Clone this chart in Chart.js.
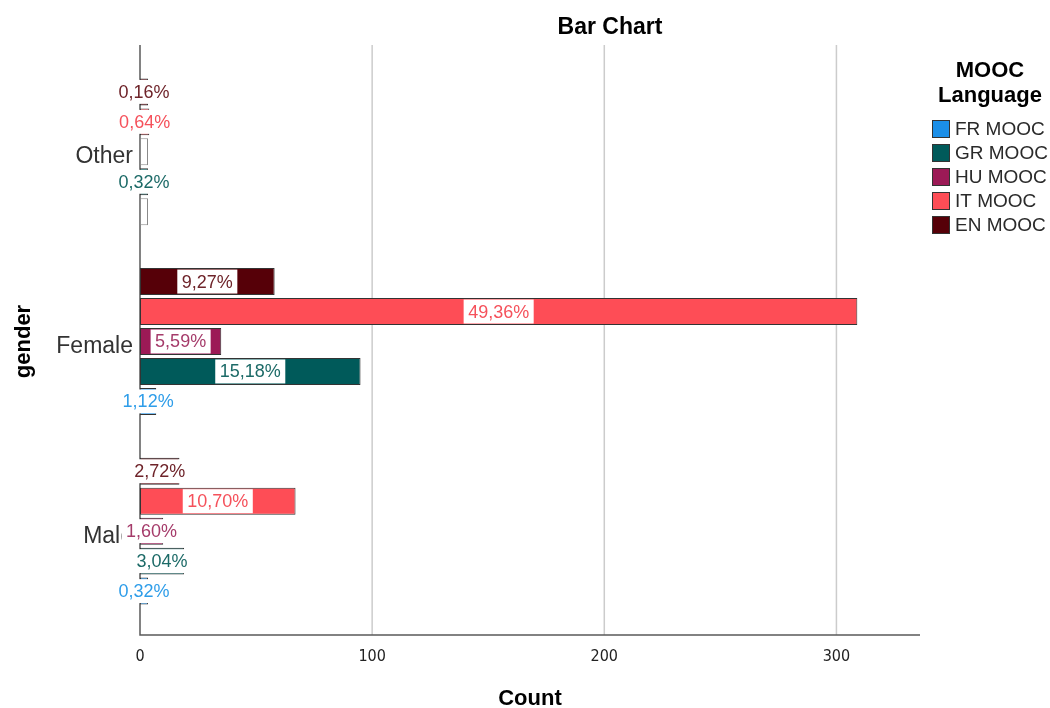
<!DOCTYPE html>
<html>
<head>
<meta charset="utf-8">
<script src="https://cdn.jsdelivr.net/npm/chart.js@4.4.1/dist/chart.umd.min.js"></script>
<style>
  html, body { margin: 0; padding: 0; background: #fff; }
  #wrap { width: 1050px; height: 708px; }
</style>
</head>
<body>
<div id="wrap"><canvas id="chart"></canvas></div>
<script>
var genders = ['Other', 'Female', 'Male'];
var languages = ['EN MOOC', 'IT MOOC', 'HU MOOC', 'GR MOOC', 'FR MOOC'];
var enMooc = [1, 58, 17];
var itMooc = [4, 309, 67];
var huMooc = [0, 35, 10];
var grMooc = [2, 95, 19];
var frMooc = [0, 7, 2];
var xTicks = [0, 100, 200, 300];

var barColors = ['#560008', '#fe4d56', '#9c1a56', '#005a5a', '#1b8fe8'];
var textColors = ['#6e2329', '#f5515b', '#a53b6a', '#1c6a67', '#2e9de9'];

var series = [enMooc, itMooc, huMooc, grMooc, frMooc];
var total = 0;
series.forEach(function (s) { s.forEach(function (v) { total += v; }); });

var font = 'Liberation Sans, Arial, sans-serif';

var frame = {
  id: 'frame',
  beforeDatasetsDraw: function (chart) {
    var ctx = chart.ctx, xs = chart.scales.x, area = chart.chartArea;
    var top = 45, bottom = 635;
    var x0 = xs.getPixelForValue(0);
    ctx.save();
    ctx.strokeStyle = '#cccccc';
    ctx.lineWidth = 1.5;
    xTicks.forEach(function (v) {
      if (v === 0) return;
      var px = xs.getPixelForValue(v);
      ctx.beginPath(); ctx.moveTo(px, top); ctx.lineTo(px, bottom); ctx.stroke();
    });
    ctx.strokeStyle = '#595959';
    ctx.beginPath();
    ctx.moveTo(x0, top); ctx.lineTo(x0, bottom); ctx.lineTo(area.right, bottom);
    ctx.stroke();
    ctx.restore();
  },
  afterDatasetsDraw: function (chart) {
    var ctx = chart.ctx;
    ctx.save();
    ctx.font = '18px ' + font;
    ctx.textAlign = 'center';
    ctx.textBaseline = 'middle';
    chart.data.datasets.forEach(function (ds, i) {
      chart.getDatasetMeta(i).data.forEach(function (bar, j) {
        var v = ds.data[j];
        if (!v) return;
        var txt = (v / total * 100).toFixed(2).replace('.', ',') + '%';
        var cx = (bar.x + bar.base) / 2;
        var w = ctx.measureText(txt).width + 9;
        var h = bar.height - 3;
        ctx.fillStyle = '#ffffff';
        ctx.fillRect(cx - w / 2, bar.y - h / 2, w, h);
        ctx.fillStyle = textColors[i];
        ctx.fillText(txt, cx, bar.y + 1);
      });
    });
    ctx.restore();
  },
  afterDraw: function (chart) {
    var ctx = chart.ctx;
    ctx.save();
    ctx.fillStyle = '#000';
    ctx.textAlign = 'center';
    ctx.textBaseline = 'middle';
    ctx.font = 'bold 23px ' + font;
    ctx.fillText('Bar Chart', 610, 28);
    ctx.font = 'bold 22px ' + font;
    ctx.fillText('MOOC', 990, 71);
    ctx.fillText('Language', 990, 96);
    ctx.font = '19px ' + font;
    ctx.textAlign = 'left';
    var n = chart.data.datasets.length;
    for (var k = 0; k < n; k++) {
      var i = n - 1 - k;
      var y = 129 + k * 24;
      ctx.fillStyle = barColors[i];
      ctx.fillRect(932, y - 9, 18, 18);
      ctx.strokeStyle = '#333';
      ctx.lineWidth = 1;
      ctx.strokeRect(932.5, y - 8.5, 17, 17);
      ctx.fillStyle = '#2a2a2a';
      ctx.fillText(chart.data.datasets[i].label, 955, y + 1);
    }
    ctx.restore();
  }
};

new Chart(document.getElementById('chart'), {
  type: 'bar',
  data: {
    labels: genders,
    datasets: series.map(function (s, i) {
      return {
        label: languages[i],
        data: s,
        backgroundColor: function (c) { return c.raw === 0 ? '#ffffff' : barColors[i]; },
        borderColor: function (c) { return c.raw === 0 ? '#8a8a8a' : '#333333'; },
        borderWidth: 1,
        borderSkipped: false,
        minBarLength: 8,
        categoryPercentage: 0.79,
        barPercentage: 0.9
      };
    })
  },
  options: {
    indexAxis: 'y',
    responsive: true,
    maintainAspectRatio: false,
    animation: false,
    layout: { padding: { left: 0, right: 130, top: 57, bottom: 0 } },
    plugins: {
      legend: { display: false },
      tooltip: { enabled: false },
      title: { display: false }
    },
    scales: {
      x: {
        min: 0,
        max: 336,
        afterBuildTicks: function (s) { s.ticks = xTicks.map(function (v) { return { value: v }; }); },
        afterFit: function (s) { s.height = 82; },
        grid: { display: false, drawTicks: false },
        border: { display: false },
        ticks: { color: '#222', padding: 21, font: { family: 'DejaVu Sans Condensed, Liberation Sans Narrow, ' + font, size: 16 } },
        title: { display: true, text: 'Count', color: '#000', padding: { top: 0, bottom: -4 },
                 font: { family: font, size: 22, weight: 'bold' } }
      },
      y: {
        afterFit: function (s) { s.width = 140; },
        grid: { display: false, drawTicks: false },
        border: { display: false },
        ticks: { color: '#333', padding: 7, labelOffset: 5, font: { family: font, size: 23 } },
        title: { display: true, text: 'gender', color: '#000', padding: { top: 11, bottom: 0 },
                 font: { family: font, size: 22, weight: 'bold' } }
      }
    }
  },
  plugins: [frame]
});
</script>
</body>
</html>
